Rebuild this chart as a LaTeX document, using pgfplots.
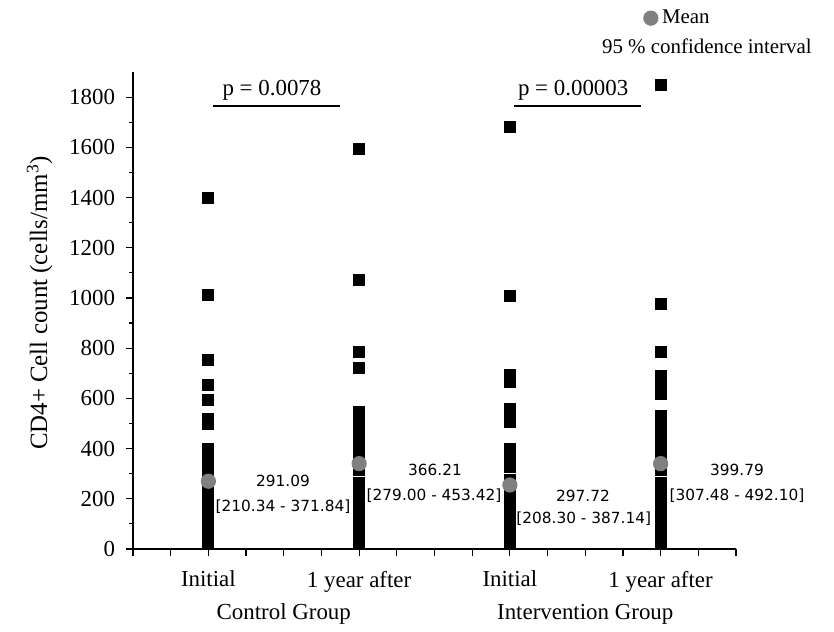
\documentclass[border=0pt]{standalone}
\usepackage{fontspec}
\setmainfont{Liberation Serif}
\newfontfamily\annfont{DejaVu Sans}
\usepackage{pgfplots}
\pgfplotsset{compat=1.18}
\definecolor{meangray}{RGB}{128,128,128}

\begin{document}
\begin{tikzpicture}
\begin{axis}[
  width=301.5bp, height=238.5bp, scale only axis,
  xmin=0.5, xmax=4.5, ymin=0, ymax=1900,
  axis lines=left, axis line style={-, line width=0.7bp},
  tick align=outside, tick style={black, line width=0.6bp},
  major tick length=3.5bp, minor tick length=2bp,
  xtick={0.5,0.75,1,1.25,1.5,1.75,2,2.25,2.5,2.75,3,3.25,3.5,3.75,4,4.25,4.5},
  xticklabels={,,Initial,,,,1 year after,,,,Initial,,,,1 year after,,},
  xticklabel style={yshift=-4bp},
  ytick={0,200,400,600,800,1000,1200,1400,1600,1800},
  minor ytick={100,300,500,700,900,1100,1300,1500,1700},
  yticklabel style={/pgf/number format/assume math mode=true,
    /pgf/number format/1000 sep={}, xshift=-2bp},
  tick label style={font=\fontsize{11.5}{13}\selectfont},
  ylabel={CD4+ Cell count (cells/mm\textsuperscript{3})},
  ylabel style={font=\fontsize{12.5}{14}\selectfont,
    at={(axis description cs:-0.155,0.516)}, anchor=center},
  clip=false,
  legend cell align=left,
  legend style={draw=none, fill=none, at={(axis description cs:0.82,1.148)},
    anchor=north west, font=\fontsize{10.5}{12}\selectfont, row sep=2bp},
]
% control group, initial
\addplot[only marks, mark=square*, mark size=2.75bp, black, forget plot] coordinates {
  (1,1400) (1,1012) (1,752) (1,655) (1,595) (1,520) (1,500)
  (1,398) (1,373) (1,348) (1,323) (1,298) (1,273) (1,248) (1,223)
  (1,198) (1,173) (1,148) (1,123) (1,98) (1,73) (1,48) (1,23)
};
% control group, 1 year after
\addplot[only marks, mark=square*, mark size=2.75bp, black, forget plot] coordinates {
  (2,1595) (2,1072) (2,785) (2,720)
  (2,548) (2,523) (2,498) (2,473) (2,448) (2,423) (2,398) (2,373) (2,348) (2,323) (2,316)
  (2,264) (2,241) (2,216) (2,200)
  (2,150) (2,125) (2,100) (2,75) (2,50) (2,23)
};
% intervention group, initial
\addplot[only marks, mark=square*, mark size=2.75bp, black, forget plot] coordinates {
  (3,1680) (3,1010) (3,694) (3,666) (3,558) (3,530) (3,506)
  (3,400) (3,372) (3,348) (3,326)
  (3,274) (3,249) (3,224) (3,199) (3,174) (3,149) (3,124) (3,99) (3,74) (3,49) (3,23)
};
% intervention group, 1 year after
\addplot[only marks, mark=square*, mark size=2.75bp, black, forget plot] coordinates {
  (4,1848) (4,975) (4,785) (4,690) (4,665) (4,640) (4,618)
  (4,531) (4,506) (4,481) (4,456) (4,431) (4,406) (4,381) (4,356) (4,331) (4,316)
  (4,264) (4,241) (4,216) (4,191) (4,166) (4,141) (4,116) (4,91) (4,66) (4,41) (4,23)
};
% means
\addplot[only marks, mark=*, mark size=3.6bp, meangray, mark options={fill=meangray, draw=meangray}] coordinates {
  (1,270) (2,340) (3,255) (4,340)
};
\addlegendentry{Mean}
\addlegendimage{empty legend}
\addlegendentry{\hspace*{-30bp}95 \% confidence interval}

% p-value brackets
\draw[line width=1bp] (axis cs:1.03,1765) -- (axis cs:1.875,1765);
\draw[line width=1bp] (axis cs:3.027,1765) -- (axis cs:3.87,1765);
\node[font=\fontsize{11.5}{13}\selectfont] at (axis cs:1.422,1828) {p = 0.0078};
\node[font=\fontsize{11.5}{13}\selectfont] at (axis cs:3.42,1828) {p = 0.00003};

% mean and CI labels
\tikzset{ann/.style={font=\annfont\fontsize{7.7}{9}\selectfont, inner sep=0pt}}
\node[ann] at (axis cs:1.495,272) {291.09};
\node[ann] at (axis cs:1.495,168) {[210.34 - 371.84]};
\node[ann] at (axis cs:2.503,316) {366.21};
\node[ann] at (axis cs:2.497,212) {[279.00 - 453.42]};
\node[ann] at (axis cs:3.485,212) {297.72};
\node[ann] at (axis cs:3.49,120) {[208.30 - 387.14]};
\node[ann] at (axis cs:4.507,316) {399.79};
\node[ann] at (axis cs:4.507,212) {[307.48 - 492.10]};

% group names
\node[font=\fontsize{11.5}{13}\selectfont] at (axis cs:1.5,-260) {Control Group};
\node[font=\fontsize{11.5}{13}\selectfont] at (axis cs:3.5,-260) {Intervention Group};

% page extent
\path (axis description cs:-0.2206,-0.1698) (axis description cs:1.1625,1.151);
\end{axis}
\end{tikzpicture}
\end{document}
